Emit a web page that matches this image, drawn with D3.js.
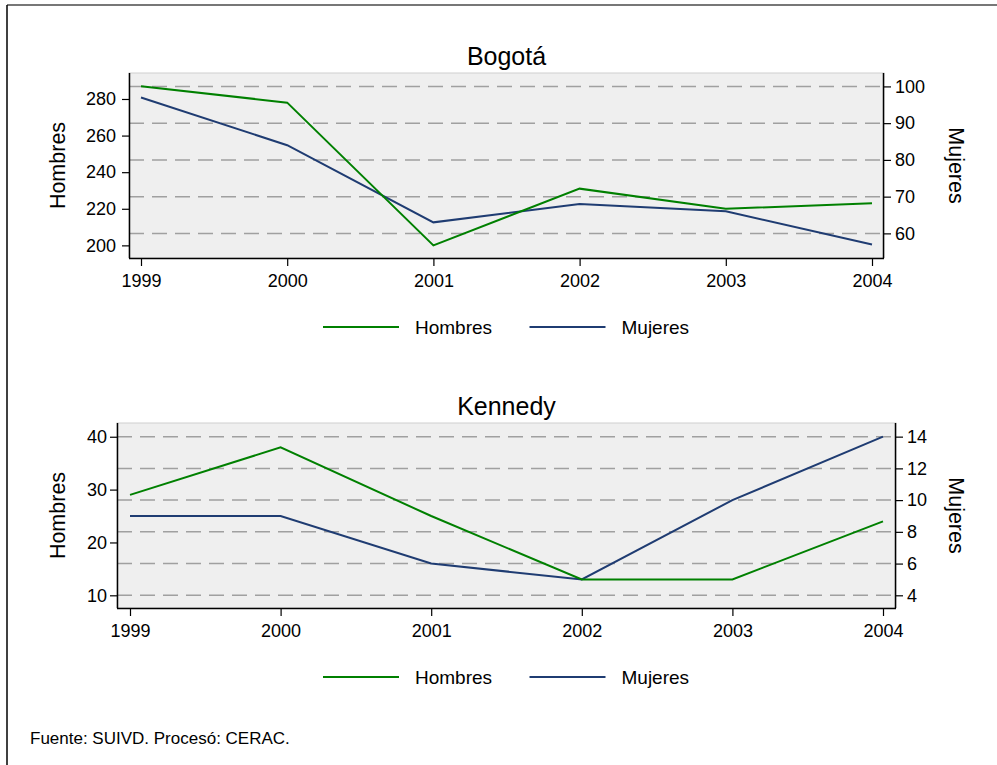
<!DOCTYPE html>
<html>
<head>
<meta charset="utf-8">
<script src="https://cdn.jsdelivr.net/npm/d3@7"></script>
<style>
  body { margin: 0; background: #fff; }
  svg { display: block; font-family: "Liberation Sans", Arial, sans-serif; }
</style>
</head>
<body>
<svg width="997" height="765"></svg>
<script>
// data
var years = [1999, 2000, 2001, 2002, 2003, 2004];
var bogotaHombres = [287, 278, 200, 231, 220, 223];
var bogotaMujeres = [97, 84, 63, 68, 66, 57];
var kennedyHombres = [29, 38, 25, 13, 13, 24];
var kennedyMujeres = [9, 9, 6, 5, 10, 14];
var bogotaLeftTicks = [200, 220, 240, 260, 280];
var bogotaRightTicks = [60, 70, 80, 90, 100];
var kennedyLeftTicks = [10, 20, 30, 40];
var kennedyRightTicks = [4, 6, 8, 10, 12, 14];
var seriesNames = ["Hombres", "Mujeres"];
var footnote = "Fuente: SUIVD. Procesó: CERAC.";

var green = "#008000", navy = "#1f3c72";

var svg = d3.select("svg");

// outer frame (top + left edge only)
svg.append("line").attr("x1", 7).attr("x2", 997).attr("y1", 5).attr("y2", 5)
  .attr("stroke", "#777").attr("stroke-width", 2);
svg.append("line").attr("x1", 7).attr("x2", 7).attr("y1", 5).attr("y2", 765)
  .attr("stroke", "#000").attr("stroke-width", 1.5);

var panels = [
  { title: "Bogotá", hombres: bogotaHombres, mujeres: bogotaMujeres,
    leftTicks: bogotaLeftTicks, rightTicks: bogotaRightTicks,
    left: 129, right: 884, top: 73, bottom: 258, xpad: 12,
    leftDom: [193.1, 294.2], rightDom: [53.3, 103.65], leftPad: 6 },
  { title: "Kennedy", hombres: kennedyHombres, mujeres: kennedyMujeres,
    leftTicks: kennedyLeftTicks, rightTicks: kennedyRightTicks,
    left: 117, right: 896, top: 423, bottom: 608, xpad: 13,
    leftDom: [7.6, 42.6], rightDom: [3.2, 14.86], leftPad: 3 }
];

panels.forEach(function(p) {
  var g = svg.append("g");
  var x = d3.scaleLinear().domain([years[0], years[years.length - 1]])
    .range([p.left + p.xpad, p.right - p.xpad]);
  var yL = d3.scaleLinear().domain(p.leftDom).range([p.bottom, p.top]);
  var yR = d3.scaleLinear().domain(p.rightDom).range([p.bottom, p.top]);

  // plot region
  g.append("rect").attr("x", p.left).attr("y", p.top)
    .attr("width", p.right - p.left).attr("height", p.bottom - p.top)
    .attr("fill", "#efefef").attr("stroke", "#d0d0d0").attr("stroke-width", 1);

  // dashed gridlines at right-axis ticks
  g.selectAll(".grid").data(p.rightTicks).enter().append("line")
    .attr("x1", p.left).attr("x2", p.right)
    .attr("y1", function(d) { return yR(d); })
    .attr("y2", function(d) { return yR(d); })
    .attr("stroke", "#a0a0a0").attr("stroke-width", 1.5)
    .attr("stroke-dasharray", "15,8");

  // axes
  var ax = g.append("g").attr("transform", "translate(0," + p.bottom + ")")
    .call(d3.axisBottom(x).tickValues(years).tickFormat(d3.format("d"))
      .tickSize(8).tickPadding(8).tickSizeOuter(0));
  ax.select(".domain").attr("d", "M" + p.left + ",0.5H" + p.right);

  var al = g.append("g").attr("transform", "translate(" + p.left + ",0)")
    .call(d3.axisLeft(yL).tickValues(p.leftTicks).tickSize(7).tickPadding(p.leftPad).tickSizeOuter(0));
  al.select(".domain").attr("d", "M0.5," + p.top + "V" + p.bottom);

  var ar = g.append("g").attr("transform", "translate(" + p.right + ",0)")
    .call(d3.axisRight(yR).tickValues(p.rightTicks).tickSize(7).tickPadding(4).tickSizeOuter(0));
  ar.select(".domain").attr("d", "M-0.5," + p.top + "V" + p.bottom);

  g.selectAll(".tick text").style("font-size", "18px").attr("fill", "#000")
    .style("font-family", "'Liberation Sans', Arial, sans-serif");
  g.selectAll(".tick line").attr("stroke", "#000").attr("stroke-width", 1.2);
  g.selectAll(".domain").attr("stroke", "#000").attr("stroke-width", 1.5);

  // series
  var lineL = d3.line().x(function(d, i) { return x(years[i]); }).y(function(d) { return yL(d); });
  var lineR = d3.line().x(function(d, i) { return x(years[i]); }).y(function(d) { return yR(d); });
  g.append("path").datum(p.mujeres).attr("d", lineR)
    .attr("fill", "none").attr("stroke", navy).attr("stroke-width", 2);
  g.append("path").datum(p.hombres).attr("d", lineL)
    .attr("fill", "none").attr("stroke", green).attr("stroke-width", 2);

  // titles
  var cx = (p.left + p.right) / 2, cy = (p.top + p.bottom) / 2;
  g.append("text").attr("x", cx).attr("y", p.top - 8)
    .attr("text-anchor", "middle").style("font-size", "25px").text(p.title);
  g.append("text").attr("transform", "translate(65," + cy + ")rotate(-90)")
    .attr("text-anchor", "middle").style("font-size", "21.5px").text(seriesNames[0]);
  g.append("text").attr("transform", "translate(949," + cy + ")rotate(90)")
    .attr("text-anchor", "middle").style("font-size", "21.5px").text(seriesNames[1]);

  // legend
  var ly = p.bottom + 69;
  var leg = g.selectAll(".leg").data(seriesNames).enter().append("g")
    .attr("transform", function(d, i) { return "translate(" + (323 + i * 206.5) + "," + ly + ")"; });
  leg.append("line").attr("x1", 0).attr("x2", 76).attr("y1", 0).attr("y2", 0)
    .attr("stroke", function(d, i) { return i === 0 ? green : navy; }).attr("stroke-width", 2);
  leg.append("text").attr("x", 92).attr("y", 7).style("font-size", "19px").text(function(d) { return d; });
});

svg.append("text").attr("x", 30).attr("y", 744).style("font-size", "17px").text(footnote);
</script>
</body>
</html>
